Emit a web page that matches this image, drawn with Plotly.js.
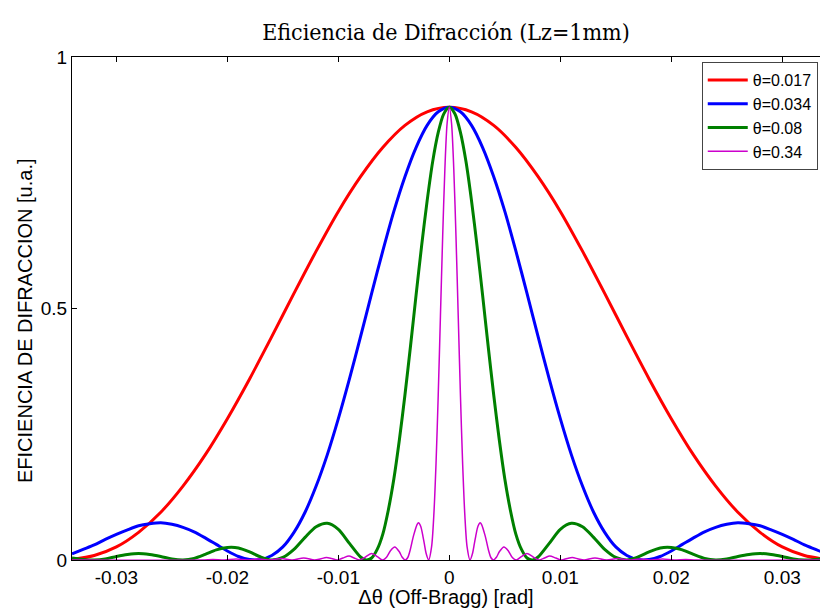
<!DOCTYPE html>
<html>
<head>
<meta charset="utf-8">
<script src="https://cdn.plot.ly/plotly-3.0.1.min.js"></script>
<style>html,body{margin:0;padding:0;background:#fff;}#chart{width:820px;height:608px;}</style>
</head>
<body>
<div id="chart"></div>
<script>
// theta = 0.017
const redX = [-0.034,-0.032,-0.030,-0.028,-0.026,-0.024,-0.022,-0.020,-0.018,-0.016,-0.014,-0.012,-0.010,-0.008,-0.006,-0.004,-0.002,0,
  0.002,0.004,0.006,0.008,0.010,0.012,0.014,0.016,0.018,0.020,0.022,0.024,0.026,0.028,0.030,0.032,0.034];
const redY = [0.001,0.009,0.026,0.055,0.095,0.147,0.209,0.281,0.360,0.444,0.530,0.614,0.693,0.762,0.820,0.864,0.891,0.900,
  0.891,0.864,0.820,0.762,0.693,0.614,0.530,0.444,0.360,0.281,0.209,0.147,0.095,0.055,0.026,0.009,0.001];

// theta = 0.034
const blueX = [-0.034,-0.033,-0.032,-0.031,-0.030,-0.029,-0.028,-0.027,-0.026,-0.025,-0.024,-0.023,-0.022,-0.021,-0.020,-0.019,-0.018,-0.017,
  -0.016,-0.015,-0.014,-0.013,-0.012,-0.011,-0.010,-0.009,-0.008,-0.007,-0.006,-0.005,-0.004,-0.003,-0.002,-0.001,0,
  0.001,0.002,0.003,0.004,0.005,0.006,0.007,0.008,0.009,0.010,0.011,0.012,0.013,0.014,0.015,0.016,0.017,
  0.018,0.019,0.020,0.021,0.022,0.023,0.024,0.025,0.026,0.027,0.028,0.029,0.030,0.031,0.032,0.033,0.034];
const blueY = [0.012,0.021,0.030,0.041,0.051,0.060,0.068,0.072,0.074,0.071,0.065,0.056,0.044,0.031,0.018,0.007,0.001,0.001,
  0.009,0.026,0.055,0.095,0.147,0.209,0.281,0.360,0.444,0.530,0.614,0.693,0.762,0.820,0.864,0.891,0.900,
  0.891,0.864,0.820,0.762,0.693,0.614,0.530,0.444,0.360,0.281,0.209,0.147,0.095,0.055,0.026,0.009,0.001,
  0.001,0.007,0.018,0.031,0.044,0.056,0.065,0.071,0.074,0.072,0.068,0.060,0.051,0.041,0.030,0.021,0.012];

// theta = 0.08
const greenX = [-0.034,-0.033,-0.032,-0.031,-0.030,-0.029,-0.028,-0.027,-0.026,-0.025,-0.024,-0.023,-0.022,-0.021,-0.020,-0.019,-0.018,-0.017,
  -0.016,-0.015,-0.014,-0.013,-0.012,-0.011,-0.010,-0.009,-0.008,-0.0075,-0.007,-0.0065,-0.006,-0.0055,-0.005,-0.0045,-0.004,-0.0035,
  -0.003,-0.0025,-0.002,-0.0015,-0.001,-0.0005,0,
  0.0005,0.001,0.0015,0.002,0.0025,0.003,0.0035,0.004,0.0045,0.005,0.0055,0.006,0.0065,0.007,0.0075,0.008,
  0.009,0.010,0.011,0.012,0.013,0.014,0.015,0.016,0.017,0.018,0.019,0.020,0.021,0.022,0.023,0.024,0.025,
  0.026,0.027,0.028,0.029,0.030,0.031,0.032,0.033,0.034];
const greenY = [0.004,0.001,0.000,0.002,0.007,0.011,0.013,0.011,0.007,0.002,0.000,0.003,0.011,0.020,0.025,0.024,0.016,0.006,
  0.000,0.005,0.021,0.045,0.066,0.073,0.061,0.033,0.006,0.000,0.004,0.021,0.051,0.099,0.161,0.239,0.328,0.425,
  0.526,0.624,0.714,0.792,0.850,0.887,0.900,
  0.887,0.850,0.792,0.714,0.624,0.526,0.425,0.328,0.239,0.161,0.099,0.051,0.021,0.004,0.000,0.006,
  0.033,0.061,0.073,0.066,0.045,0.021,0.005,0.000,0.006,0.016,0.024,0.025,0.020,0.011,0.003,0.000,0.002,
  0.007,0.011,0.013,0.011,0.007,0.002,0.000,0.001,0.004];

// theta = 0.34
const magX = [-0.034,-0.0223,-0.0213,-0.02025,-0.01921,-0.01823,-0.01719,-0.01619,-0.01516,-0.01417,-0.01312,-0.01214,
  -0.01163,-0.01108,-0.01061,-0.0101,-0.00959,-0.00904,-0.00858,-0.00807,-0.00755,-0.00699,-0.00645,-0.00603,
  -0.00568,-0.00529,-0.00492,-0.00452,-0.00426,-0.00397,-0.00374,-0.00355,-0.00323,-0.0029,-0.00278,-0.00258,
  -0.00242,-0.00226,-0.0021,-0.00186,-0.0016,-0.0014,-0.0012,-0.001,-0.0008,-0.0006,-0.0004,-0.0002,0,
  0.0002,0.0004,0.0006,0.0008,0.001,0.0012,0.0014,0.0016,0.00186,0.0021,0.00226,0.00242,0.00258,0.00278,
  0.0029,0.00323,0.00355,0.00374,0.00397,0.00426,0.00452,0.00492,0.00529,0.00568,0.00603,0.00645,0.00699,
  0.00755,0.00807,0.00858,0.00904,0.00959,0.0101,0.01061,0.01108,0.01163,0.01214,0.01312,0.01417,0.01516,
  0.01619,0.01719,0.01823,0.01921,0.02025,0.0213,0.0223,0.034];
const magY = [0.000,0.000,0.001,0.000,0.002,0.000,0.002,0.000,0.003,0.000,0.004,0.000,
  0.002,0.005,0.003,0.000,0.004,0.008,0.004,0.000,0.006,0.013,0.006,0.000,
  0.005,0.019,0.026,0.017,0.006,0.000,0.005,0.018,0.048,0.071,0.074,0.067,
  0.052,0.033,0.014,0.000,0.026,0.088,0.191,0.328,0.486,0.643,0.778,0.868,0.900,
  0.868,0.778,0.643,0.486,0.328,0.191,0.088,0.026,0.000,0.014,0.033,0.052,0.067,0.074,
  0.071,0.048,0.018,0.005,0.000,0.006,0.017,0.026,0.019,0.005,0.000,0.006,0.013,
  0.006,0.000,0.004,0.008,0.004,0.000,0.003,0.005,0.002,0.000,0.004,0.000,0.003,
  0.000,0.002,0.000,0.002,0.000,0.001,0.000,0.000];

const seriesNames = ['θ=0.017','θ=0.034','θ=0.08','θ=0.34'];
const xTickVals = [-0.03,-0.02,-0.01,0,0.01,0.02,0.03];
const xTickText = ['-0.03','-0.02','-0.01','0','0.01','0.02','0.03'];
const yTickVals = [0,0.5,1];
const yTickText = ['0','0.5','1'];

const FONT = 'Arial, "Liberation Sans", sans-serif';

const traces = [
  {x: redX, y: redY, name: seriesNames[0], mode:'lines', line:{color:'#ff0000', width:3, shape:'spline', smoothing:0.8}},
  {x: blueX, y: blueY, name: seriesNames[1], mode:'lines', line:{color:'#0000ff', width:3, shape:'spline', smoothing:0.8}},
  {x: greenX, y: greenY, name: seriesNames[2], mode:'lines', line:{color:'#008000', width:3, shape:'spline', smoothing:0.8}},
  {x: magX, y: magY, name: seriesNames[3], mode:'lines', line:{color:'#cc00cc', width:1.5, shape:'spline', smoothing:0.8}}
];

const layout = {
  width: 820, height: 608,
  paper_bgcolor:'#ffffff', plot_bgcolor:'#ffffff',
  margin:{l:72, r:0, t:57, b:48},
  font:{family:FONT, size:16, color:'#000'},
  title:{text:'Eficiencia de Difracción (Lz=1mm)', font:{family:'"DejaVu Serif Condensed", "DejaVu Serif", serif', size:23, color:'#000'},
         x:0.5, xref:'paper', xanchor:'center', y:1-32/608, yref:'container', yanchor:'middle'},
  xaxis:{range:[-0.034,0.0334], tickvals:xTickVals, ticktext:xTickText, ticks:'inside', ticklen:5, tickcolor:'#000',
         showline:true, linecolor:'#000', linewidth:1, mirror:'ticks', showgrid:false, zeroline:false,
         tickfont:{family:FONT, size:19, color:'#000'},
         title:{text:'Δθ (Off-Bragg) [rad]', font:{family:FONT, size:20, color:'#000'}, standoff:2}},
  yaxis:{range:[0,1], tickvals:yTickVals, ticktext:yTickText, ticks:'inside', ticklen:5, tickcolor:'#000',
         showline:true, linecolor:'#000', linewidth:1, mirror:false, showgrid:false, zeroline:false,
         tickfont:{family:FONT, size:19, color:'#000'}},
  annotations:[{text:'EFICIENCIA DE DIFRACCION [u.a.]', xref:'paper', yref:'paper', x:(25-72)/748, y:(560-321)/503,
                xanchor:'center', yanchor:'middle', textangle:-90, showarrow:false,
                font:{family:FONT, size:20, color:'#000'}}],
  legend:{x:0.997, xanchor:'right', y:0.99, yanchor:'top', bgcolor:'#ffffff', bordercolor:'#444', borderwidth:1,
          font:{family:FONT, size:16, color:'#000'}, tracegroupgap:0, itemwidth:40},
  showlegend:true
};

Plotly.newPlot('chart', traces, layout, {displayModeBar:false, staticPlot:true});
</script>
</body>
</html>
